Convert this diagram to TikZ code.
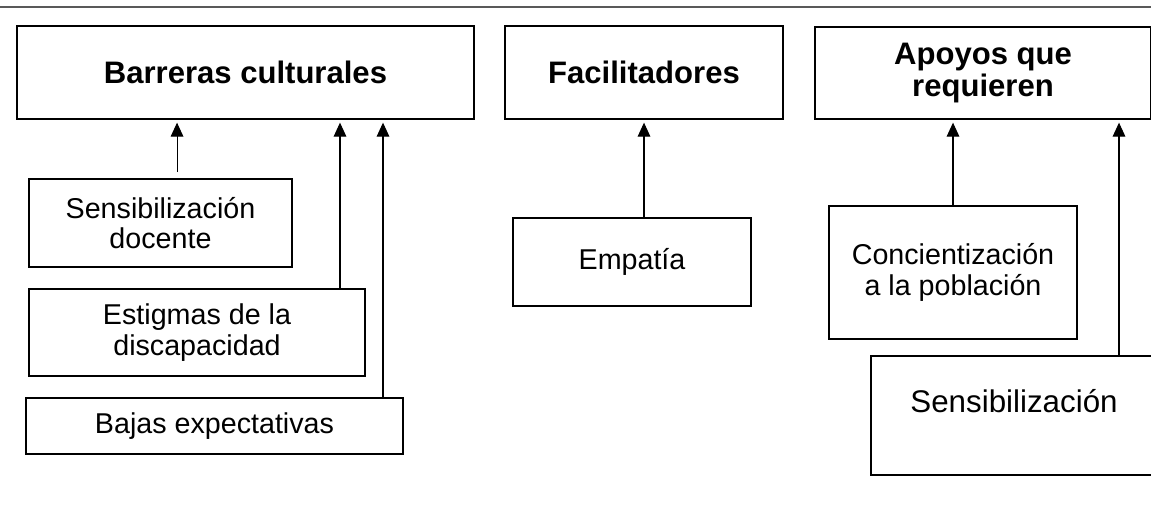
\documentclass[tikz,border=0pt]{standalone}
\usepackage{fontspec}
\setmainfont{Liberation Sans}
\usetikzlibrary{arrows.meta}

\begin{document}
\begin{tikzpicture}[x=0.75pt, y=-0.75pt,
    box/.style={draw, line width=1.5pt, align=center, inner sep=2pt, anchor=center,
      font=\fontsize{21.5pt}{23pt}\selectfont},
    head/.style={box, font=\bfseries\fontsize{23.3pt}{23.5pt}\selectfont},
    link/.style={line width=0.8pt, -{Triangle[length=10.5pt, width=9.5pt]}, shorten >=2pt}]
      \useasboundingbox (0,0) rectangle (1151,507);
      \clip (0,0) rectangle (1151,507);
      \draw [line width=1pt, black!65] (0,7) -- (1151,7);

      \node[head, minimum width=342.75pt, minimum height=69.75pt] (barreras) at (245.5,72.5) {Barreras culturales};
      \node[head, minimum width=208.5pt, minimum height=69.75pt] (facil) at (644,72.5) {Facilitadores};
      \node[head, minimum width=252pt, minimum height=69pt] (apoyos) at (983,73) {Apoyos que\\requieren};

      \node[box, minimum width=197.25pt, minimum height=66pt] (sensdoc) at (160.5,223) {Sensibilización\\docente};
      \node[box, minimum width=252pt, minimum height=65.25pt] (estigmas) at (197,332.5) {Estigmas de la\\discapacidad};
      \node[box, minimum width=282.75pt, minimum height=42pt] (bajas) at (214.5,426) {Bajas expectativas};

      \node[box, minimum width=178.5pt, minimum height=66pt] (empatia) at (632,262) {Empatía};

      \node[box, minimum width=186pt, minimum height=99.75pt] (concien) at (953,272.5) {Concientización\\a la población};
      \node[box, minimum width=214.5pt, minimum height=89.25pt, text height=17pt, text depth=21pt,
        font=\fontsize{23.5pt}{24pt}\selectfont] (sensib) at (1014,415.5) {Sensibilización};

      \draw [link, shorten <=4.5pt] ([xshift=12.4pt]sensdoc.north) -- ([xshift=12.4pt]sensdoc.north |- barreras.south);
      \draw [link] ([xshift=-19.5pt]estigmas.north east) -- ([xshift=-19.5pt]estigmas.north east |- barreras.south);
      \draw [link] ([xshift=-15.75pt]bajas.north east) -- ([xshift=-15.75pt]bajas.north east |- barreras.south);
      \draw [link] (empatia.north -| facil.south) -- (facil.south);
      \draw [link] (concien.north) -- (concien.north |- apoyos.south);
      \draw [link] ([xshift=186.75pt]sensib.north west) -- ([xshift=186.75pt]sensib.north west |- apoyos.south);
\end{tikzpicture}
\end{document}
